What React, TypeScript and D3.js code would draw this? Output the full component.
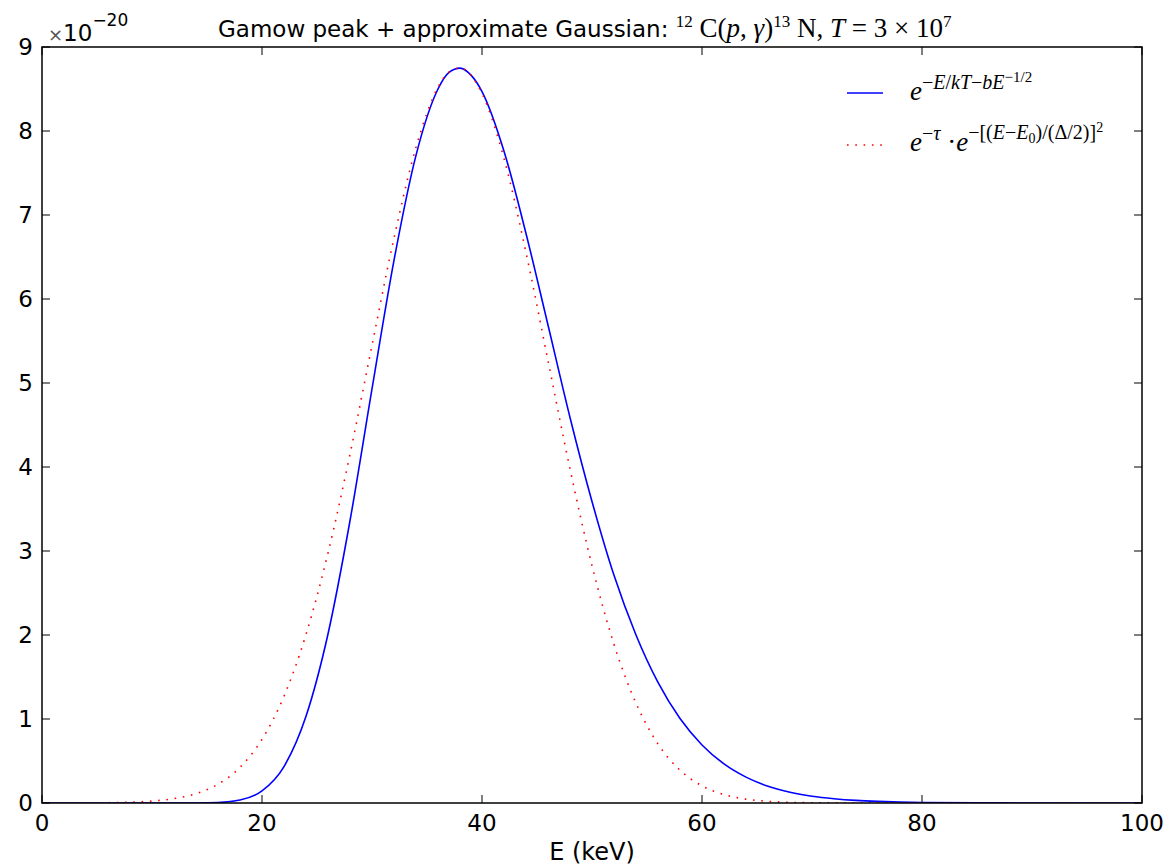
import React from "react";
import * as d3 from "d3";

// Energy grid (keV) and values (units of 1e-20)
const energy = [0, 4, 8, 10, 12, 14, 16, 18, 20, 22, 24, 26, 28, 30, 32, 34, 36, 37, 38, 39, 40, 42, 44, 46, 48, 50, 52, 54, 56, 58, 60, 62, 64, 66, 68, 70, 72, 74, 76, 78, 80, 85, 90, 95, 100];
const gamow = [0, 0, 0, 0, 0.00003, 0.0006, 0.0058, 0.035, 0.144, 0.434, 1.032, 2.012, 3.36, 4.93, 6.46, 7.71, 8.50, 8.697, 8.749, 8.665, 8.47, 7.76, 6.78, 5.69, 4.59, 3.59, 2.71, 2.00, 1.435, 1.005, 0.691, 0.465, 0.308, 0.200, 0.128, 0.081, 0.051, 0.031, 0.019, 0.0115, 0.0068, 0.002, 0.0005, 0.0001, 0];
const gauss = [0.0002, 0.0013, 0.0094, 0.023, 0.052, 0.111, 0.224, 0.425, 0.758, 1.271, 2.006, 2.976, 4.152, 5.449, 6.725, 7.805, 8.521, 8.70, 8.749, 8.663, 8.448, 7.673, 6.554, 5.265, 3.978, 2.826, 1.889, 1.188, 0.702, 0.390, 0.204, 0.100, 0.046, 0.020, 0.008, 0.003, 0.001, 0.0004, 0, 0, 0, 0, 0, 0, 0];

const xTicks = [0, 20, 40, 60, 80, 100];
const yTicks = [0, 1, 2, 3, 4, 5, 6, 7, 8, 9];

const W = 1166, H = 867;
const L = 42, R = 1142, T = 47, B = 803;

export default function App() {
  const x = d3.scaleLinear().domain([0, 100]).range([L, R]);
  const y = d3.scaleLinear().domain([0, 9]).range([B, T]);
  const line = d3.line<number>().x((_, i) => x(energy[i])).y((d) => y(d)).curve(d3.curveMonotoneX);
  const tick = 8;
  const sans = "'DejaVu Sans', sans-serif";
  const serif = "'Liberation Serif', 'DejaVu Serif', serif";
  const mf = 27;
  const ms = 17;
  return (
    <svg width={W} height={H} style={{ position: "absolute", left: 0, top: 0, background: "#fff" }}>
      <defs>
        <clipPath id="plot"><rect x={L} y={T} width={R - L} height={B - T} /></clipPath>
      </defs>
      <rect x={0} y={0} width={W} height={H} fill="#fff" />
      <g clipPath="url(#plot)">
        <path d={line(gamow) || ""} fill="none" stroke="#0000ff" strokeWidth={1.6} />
        <path d={line(gauss) || ""} fill="none" stroke="#ff0000" strokeWidth={1.6} strokeDasharray="1.6 6.7" />
      </g>
      {xTicks.map((t) => (
        <g key={"x" + t}>
          <line x1={x(t)} x2={x(t)} y1={B} y2={B - tick} stroke="#000" strokeWidth={1} />
          <line x1={x(t)} x2={x(t)} y1={T} y2={T + tick} stroke="#000" strokeWidth={1} />
          <text x={x(t)} y={831} textAnchor="middle" fontFamily={sans} fontSize={23} fill="#000">{t}</text>
        </g>
      ))}
      {yTicks.map((t) => (
        <g key={"y" + t}>
          <line x1={L} x2={L + tick} y1={y(t)} y2={y(t)} stroke="#000" strokeWidth={1} />
          <line x1={R} x2={R - tick} y1={y(t)} y2={y(t)} stroke="#000" strokeWidth={1} />
          <text x={33} y={y(t) + 8} textAnchor="end" fontFamily={sans} fontSize={23} fill="#000">{t}</text>
        </g>
      ))}
      <rect x={L} y={T} width={R - L} height={B - T} fill="none" stroke="#000" strokeWidth={1.5} />
      <text x={48} y={41} fontFamily={sans} fontSize={23} fill="#000">
        <tspan fontSize={18} fill="#555">×</tspan>10<tspan fontSize={17} dy={-15}>−20</tspan>
      </text>
      <text x={218} y={37} fontSize={23} fill="#000" fontFamily={sans}>
        <tspan>Gamow peak + approximate Gaussian: </tspan>
        <tspan fontFamily={serif} fontSize={ms} dy={-10}>12</tspan>
        <tspan fontFamily={serif} fontSize={mf} dy={10}> C(</tspan>
        <tspan fontFamily={serif} fontSize={mf} fontStyle="italic">p</tspan>
        <tspan fontFamily={serif} fontSize={mf}>, </tspan>
        <tspan fontFamily={serif} fontSize={mf} fontStyle="italic">γ</tspan>
        <tspan fontFamily={serif} fontSize={mf}>)</tspan>
        <tspan fontFamily={serif} fontSize={ms} dy={-10}>13</tspan>
        <tspan fontFamily={serif} fontSize={mf} dy={10}> N, </tspan>
        <tspan fontFamily={serif} fontSize={mf} fontStyle="italic">T</tspan>
        <tspan fontFamily={serif} fontSize={mf}> = 3 × 10</tspan>
        <tspan fontFamily={serif} fontSize={ms} dy={-10}>7</tspan>
      </text>
      <text x={(L + R) / 2} y={860} textAnchor="middle" fontFamily={sans} fontSize={24} fill="#000">E (keV)</text>
      <line x1={847} x2={883} y1={93} y2={93} stroke="#0000ff" strokeWidth={1.6} />
      <line x1={847} x2={883} y1={145} y2={145} stroke="#ff0000" strokeWidth={1.6} strokeDasharray="1.6 6.7" />
      <text x={910} y={100} fontFamily={serif} fontSize={27} fill="#000">
        <tspan fontStyle="italic">e</tspan>
        <tspan fontSize={20} dy={-11}>−</tspan>
        <tspan fontSize={20} fontStyle="italic">E</tspan>
        <tspan fontSize={20}>/</tspan>
        <tspan fontSize={20} fontStyle="italic">kT</tspan>
        <tspan fontSize={20}>−</tspan>
        <tspan fontSize={20} fontStyle="italic">bE</tspan>
        <tspan fontSize={15} dy={-7}>−1/2</tspan>
      </text>
      <text x={910} y={151} fontFamily={serif} fontSize={27} fill="#000">
        <tspan fontStyle="italic">e</tspan>
        <tspan fontSize={20} dy={-11}>−</tspan>
        <tspan fontSize={20} fontStyle="italic">τ</tspan>
        <tspan dy={11}> ·</tspan>
        <tspan fontStyle="italic">e</tspan>
        <tspan fontSize={20} dy={-12}>−[(</tspan>
        <tspan fontSize={20} fontStyle="italic">E</tspan>
        <tspan fontSize={20}>−</tspan>
        <tspan fontSize={20} fontStyle="italic">E</tspan>
        <tspan fontSize={14} dy={4}>0</tspan>
        <tspan fontSize={20} dy={-4}>)/(Δ/2)]</tspan>
        <tspan fontSize={14} dy={-7}>2</tspan>
      </text>
    </svg>
  );
}
